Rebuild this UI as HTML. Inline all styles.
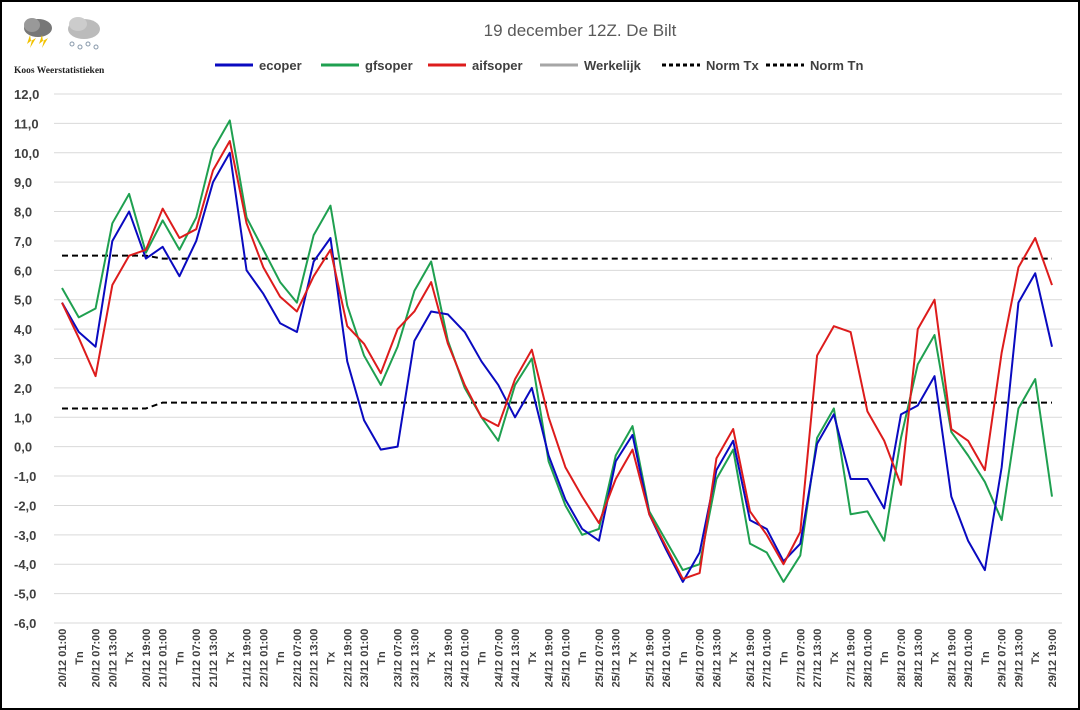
<!DOCTYPE html>
<html><head><meta charset="utf-8"><style>
body{margin:0;background:#fff;}
#wrap{position:relative;width:1076px;height:706px;border:2px solid #000;overflow:hidden;font-family:"Liberation Sans",sans-serif;}
</style></head><body>
<div id="wrap">
<svg id="chart" width="1076" height="706" xmlns="http://www.w3.org/2000/svg">
  <g>
    <ellipse cx="36" cy="26" rx="14" ry="9" fill="#777"/><ellipse cx="30" cy="23" rx="8" ry="7" fill="#999"/>
    <polygon points="28,33 25,42 30,38 28,46 34,36 29,39" fill="#f2c200"/>
    <polygon points="40,33 37,42 42,38 40,46 46,36 41,39" fill="#f2c200"/>
    <ellipse cx="82" cy="27" rx="16" ry="10" fill="#bbb"/><ellipse cx="76" cy="22" rx="9" ry="7" fill="#ccc"/>
    <circle cx="70" cy="42" r="2" fill="none" stroke="#89a"/><circle cx="78" cy="45" r="2" fill="none" stroke="#89a"/><circle cx="86" cy="42" r="2" fill="none" stroke="#89a"/><circle cx="94" cy="45" r="2" fill="none" stroke="#89a"/>
    <text x="12" y="71" font-family="Liberation Serif, serif" font-size="9.5" font-weight="bold" fill="#222">Koos Weerstatistieken</text>
  </g>
  <text x="578" y="34" text-anchor="middle" font-size="17" fill="#595959">19 december 12Z. De Bilt</text>
  <g id="legend" font-size="13" font-weight="bold" fill="#404040"></g>
  <g id="grid"></g><g id="ylabels"></g><g id="xlabels"></g><g id="series"></g>
</svg>
</div>
<script>
const categories=[];
const days=["20","21","22","23","24","25","26","27","28","29"];
for(const d of days){categories.push(d+"/12 01:00","Tn",d+"/12 07:00",d+"/12 13:00","Tx",d+"/12 19:00");}
const ecoper=[4.9,3.9,3.4,7.0,8.0,6.4,6.8,5.8,7.0,9.0,10.0,6.0,5.2,4.2,3.9,6.3,7.1,2.9,0.9,-0.1,0.0,3.6,4.6,4.5,3.9,2.9,2.1,1.0,2.0,-0.3,-1.8,-2.8,-3.2,-0.5,0.4,-2.3,-3.5,-4.6,-3.6,-0.8,0.2,-2.5,-2.8,-3.9,-3.3,0.1,1.1,-1.1,-1.1,-2.1,1.1,1.4,2.4,-1.7,-3.2,-4.2,-0.7,4.9,5.9,3.4];
const gfsoper=[5.4,4.4,4.7,7.6,8.6,6.6,7.7,6.7,7.8,10.1,11.1,7.8,6.7,5.6,4.9,7.2,8.2,4.8,3.1,2.1,3.4,5.3,6.3,3.6,2.0,1.0,0.2,2.1,3.0,-0.5,-2.0,-3.0,-2.8,-0.3,0.7,-2.2,-3.2,-4.2,-4.0,-1.1,-0.1,-3.3,-3.6,-4.6,-3.7,0.3,1.3,-2.3,-2.2,-3.2,0.3,2.8,3.8,0.5,-0.3,-1.2,-2.5,1.3,2.3,-1.7];
const aifsoper=[4.9,3.7,2.4,5.5,6.5,6.7,8.1,7.1,7.4,9.4,10.4,7.6,6.1,5.1,4.6,5.8,6.7,4.1,3.5,2.5,4.0,4.6,5.6,3.5,2.1,1.0,0.7,2.3,3.3,1.0,-0.7,-1.7,-2.6,-1.1,-0.1,-2.3,-3.4,-4.5,-4.3,-0.4,0.6,-2.2,-3.0,-4.0,-2.9,3.1,4.1,3.9,1.2,0.2,-1.3,4.0,5.0,0.6,0.2,-0.8,3.2,6.1,7.1,5.5];
const normTx=[6.5,6.5,6.5,6.5,6.5,6.5].concat(Array(54).fill(6.4));
const normTn=[1.3,1.3,1.3,1.3,1.3,1.3].concat(Array(54).fill(1.5));
const yTicks=[12,11,10,9,8,7,6,5,4,3,2,1,0,-1,-2,-3,-4,-5,-6];

const NS="http://www.w3.org/2000/svg";
const X0=60,X1=1050,Y0=92,Y1=621,VMAX=12,VMIN=-6;
const xs=i=>X0+(X1-X0)*i/(categories.length-1);
const ys=v=>Y0+(VMAX-v)*(Y1-Y0)/(VMAX-VMIN);
function mk(tag,attrs,parent){const e=document.createElementNS(NS,tag);for(const k in attrs)e.setAttribute(k,attrs[k]);parent.appendChild(e);return e;}
const grid=document.getElementById('grid'),yl=document.getElementById('ylabels'),xl=document.getElementById('xlabels'),sr=document.getElementById('series'),lg=document.getElementById('legend');
yTicks.forEach(v=>{
  const l=mk('line',{x1:52,x2:1060,y1:ys(v),y2:ys(v),stroke:'#d9d9d9','stroke-width':1},grid);
  
  
  const t=mk('text',{x:12,y:ys(v)+5,'font-size':13,'font-weight':'bold',fill:'#404040'},yl);
  t.textContent=v.toFixed(1).replace('.',',');
  
  
});
categories.forEach((c,i)=>{
  const t=mk('text',{transform:`translate(${xs(i)+4},${656}) rotate(-90)`,'text-anchor':'middle','font-size':11,'font-weight':'bold',fill:'#404040'},xl);
  t.textContent=c;
  
  
});
function line(arr,color,dash,name,w){
  const p=mk('polyline',{points:arr.map((v,i)=>xs(i)+','+ys(v)).join(' '),fill:'none',stroke:color,'stroke-width':w,'stroke-linejoin':'round'},sr);
  if(dash)p.setAttribute('stroke-dasharray',dash);
  
  
}
line(normTx,'#000','6,4','norm-tx-line',2);
line(normTn,'#000','6,4','norm-tn-line',2);
line(gfsoper,'#1fa050',null,'gfsoper-line',2);
line(ecoper,'#0a0ac0',null,'ecoper-line',2);
line(aifsoper,'#dd1c1c',null,'aifsoper-line',2);
const leg=[['ecoper','#0a0ac0',null,213],['gfsoper','#1fa050',null,319],['aifsoper','#dd1c1c',null,426],['Werkelijk','#a6a6a6',null,538],['Norm Tx','#000','4,3',660],['Norm Tn','#000','4,3',764]];
leg.forEach(([n,c,d,x])=>{
  const g=mk('g',{},lg);
  
  
  const l=mk('line',{x1:x,x2:x+38,y1:63,y2:63,stroke:c,'stroke-width':3},g);
  if(d)l.setAttribute('stroke-dasharray',d);
  const t=mk('text',{x:x+44,y:68},g);t.textContent=n;
});
</script>
</body></html>
